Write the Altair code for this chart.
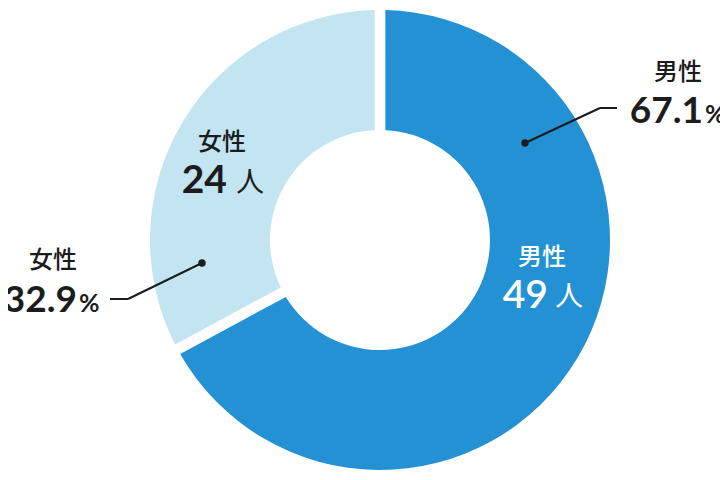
import altair as alt
import pandas as pd

categories = ["男性", "女性"]
counts = [49, 24]
percents = [67.1, 32.9]
colors = ["#2391D3", "#C2E5F1"]
stack_order = [0, 1]

df = pd.DataFrame({
    "category": categories,
    "count": counts,
    "percent": percents,
    "order": stack_order,
})
df["pct_label"] = df["percent"].map(lambda v: f"{v:.1f}")
df["count_label"] = df["count"].astype(str)

DARK = "#1c1c1c"
JP = "Noto Sans CJK JP"
NUM = "Lato"

base = alt.Chart(df)

arc = base.mark_arc(innerRadius=110, outerRadius=230, padAngle=0.042).encode(
    theta=alt.Theta("count:Q", stack=True),
    color=alt.Color("category:N", scale=alt.Scale(domain=categories, range=colors), legend=None),
    order=alt.Order("order:Q"),
    x=alt.value(372),
    y=alt.value(232),
)


def txt(cat, field, x, y, size, weight=500, align="center", color=DARK, font=JP, literal=None):
    m = base.transform_filter(alt.datum.category == cat).mark_text(
        align=align, baseline="alphabetic", fontSize=size, fontWeight=weight, font=font, color=color
    )
    t = alt.value(literal) if literal is not None else alt.Text(f"{field}:N")
    return m.encode(text=t, x=alt.value(x), y=alt.value(y))


def rule(cat, x1, y1, x2, y2):
    return base.transform_filter(alt.datum.category == cat).mark_rule(color=DARK, strokeWidth=2).encode(
        x=alt.value(x1), y=alt.value(y1), x2=alt.value(x2), y2=alt.value(y2)
    )


def dot(cat, x, y):
    return base.transform_filter(alt.datum.category == cat).mark_circle(color=DARK, opacity=1, size=55).encode(
        x=alt.value(x), y=alt.value(y)
    )


male, female = categories

layers = [
    arc,
    # inner labels
    txt(female, "category", 214, 142, 24),
    txt(female, "count_label", 219, 185, 39, weight="bold", align="right", font=NUM),
    txt(female, None, 228, 184, 28, weight=400, align="left", literal="人"),
    txt(male, "category", 534, 257, 24, color="white"),
    txt(male, "count_label", 540, 300, 39, weight=600, align="right", font=NUM, color="white"),
    txt(male, None, 547, 298, 28, weight=400, align="left", color="white", literal="人"),
    # outer labels
    txt(female, "category", 45, 260, 24),
    txt(female, "pct_label", 69, 304, 37, weight="bold", align="right", font=NUM),
    txt(female, None, 71, 304, 25, weight="bold", align="left", font=NUM, literal="%"),
    txt(male, "category", 670, 72, 24),
    txt(male, "pct_label", 695, 115, 37, weight="bold", align="right", font=NUM),
    txt(male, None, 697, 115, 25, weight="bold", align="left", font=NUM, literal="%"),
    # leader lines
    rule(male, 517, 135, 592, 100),
    rule(male, 592, 100, 609, 100),
    dot(male, 517, 135),
    rule(female, 194, 255, 120, 291),
    rule(female, 120, 291, 102, 291),
    dot(female, 194, 255),
]

chart = alt.layer(*layers).properties(
    width=712, height=464, padding=0, autosize=alt.AutoSizeParams(type="none")
).configure_view(stroke=None)

chart.save("out.html", embed_options={"renderer": "svg", "actions": False})
